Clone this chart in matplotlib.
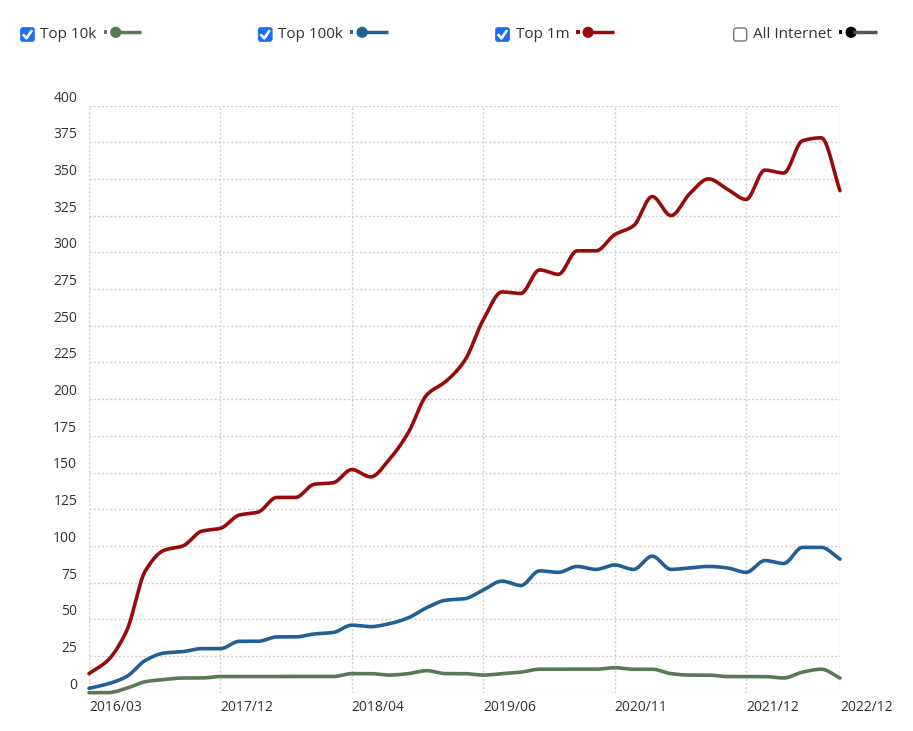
import matplotlib
matplotlib.use('Agg')

import matplotlib.pyplot as plt
from matplotlib.patches import FancyBboxPatch, Circle, Rectangle
import numpy as np

plt.rcParams['font.family'] = ['Open Sans', 'DejaVu Sans']

# 데이터
top10k = [0, 0, 3, 7.5, 9, 10, 10, 11, 11, 11, 11, 11, 11, 11, 13, 13, 12, 13, 15, 13,
          13, 12, 13, 14, 16, 16, 16, 16, 17, 16, 16, 13, 12, 12, 11, 11, 11, 10, 14, 16, 10]
top100k = [3, 6, 11, 22, 27, 28, 30, 30, 35, 35, 38, 38, 40, 41, 46, 45, 47, 51, 58, 63,
           64, 70, 76, 73, 83, 82, 86, 84, 87, 84, 93, 84, 85, 86, 85, 82, 90, 88, 99, 99, 91]
top1m = [13, 22, 42, 83, 97, 100, 110, 112, 121, 123, 133, 133, 142, 143, 152, 147, 159, 177,
         203, 212, 226, 254, 273, 272, 288, 285, 301, 301, 312, 318, 338, 325, 340, 350, 343,
         336, 356, 354, 376, 378, 342]

tick_pos = [0, 7, 14, 21, 28, 35, 40]
tick_labels = ['2016/03', '2017/12', '2018/04', '2019/06', '2020/11', '2021/12', '2022/12']
y_ticks = list(range(0, 401, 25))

series = [
    ('Top 10k', top10k, '#587b55', '#587b55', True),
    ('Top 100k', top100k, '#235f97', '#235f97', True),
    ('Top 1m', top1m, '#990b0b', '#990b0b', True),
    ('All Internet', None, '#000000', '#555555', False),
]


def monotone(x, y, n=24):
    # 단조 3차 보간 (곡선 표시용)
    x = np.asarray(x, float)
    y = np.asarray(y, float)
    h = np.diff(x)
    d = np.diff(y) / h
    m = np.zeros_like(y)
    m[0], m[-1] = d[0], d[-1]
    for k in range(1, len(y) - 1):
        if d[k - 1] * d[k] <= 0:
            m[k] = 0
        else:
            w1 = 2 * h[k] + h[k - 1]
            w2 = h[k] + 2 * h[k - 1]
            m[k] = (w1 + w2) / (w1 / d[k - 1] + w2 / d[k])
    xs, ys = [], []
    for k in range(len(h)):
        t = np.linspace(0, 1, n, endpoint=False)
        h00 = 2 * t**3 - 3 * t**2 + 1
        h10 = t**3 - 2 * t**2 + t
        h01 = -2 * t**3 + 3 * t**2
        h11 = t**3 - t**2
        xs.append(x[k] + t * h[k])
        ys.append(h00 * y[k] + h10 * h[k] * m[k] + h01 * y[k + 1] + h11 * h[k] * m[k + 1])
    xs.append([x[-1]])
    ys.append([y[-1]])
    return np.concatenate(xs), np.concatenate(ys)


W, H = 913, 731
fig = plt.figure(figsize=(W / 100, H / 100), dpi=100)
fig.patch.set_facecolor('white')

left, right, top, bottom = 89, 840, 105.5, 692.7
ax = fig.add_axes([left / W, 1 - bottom / H, (right - left) / W, (bottom - top) / H])

for name, vals, c_dot, c_line, on in series:
    if vals is None:
        continue
    xs, ys = monotone(np.arange(len(vals)), vals)
    ax.plot(xs, ys, color=c_line, lw=2.6, solid_capstyle='round', clip_on=False, zorder=3)

ax.set_xlim(0, len(top1m) - 1)
ax.set_ylim(0, 400)
ax.set_xticks(tick_pos)
ax.set_xticklabels(tick_labels, ha='left')
ax.set_yticks(y_ticks)
ax.set_yticklabels([str(v) for v in y_ticks])
for lab in ax.get_yticklabels():
    lab.set_va('bottom')
ax.tick_params(axis='both', length=0, labelsize=10, labelcolor='#333333')
ax.tick_params(axis='y', pad=8.5)
ax.tick_params(axis='x', pad=5)
for s in ax.spines.values():
    s.set_visible(False)
ax.grid(True, color='#cfcfcf', lw=1, linestyle=(0, (1.5, 1.5)))
ax.set_axisbelow(True)

# 범례 (체크박스 + 아이콘)
lg = fig.add_axes([0, 0, 1, 1])
lg.set_xlim(0, W)
lg.set_ylim(H, 0)
lg.axis('off')

box_x = [20, 257.7, 495, 732.7]
for (name, vals, c_dot, c_line, on), bx in zip(series, box_x):
    if on:
        lg.add_patch(FancyBboxPatch((bx + 0.5, 27.5), 14, 14, boxstyle='round,pad=0,rounding_size=2.5',
                                    fc='#1a6ff0', ec='#1a6ff0', lw=0.5))
        lg.plot([bx + 3.5, bx + 6.5, bx + 11.5], [35, 38.3, 31], color='white', lw=1.9,
                solid_capstyle='round', solid_joinstyle='round')
    else:
        lg.add_patch(FancyBboxPatch((bx + 1, 28), 13, 13, boxstyle='round,pad=0,rounding_size=2.5',
                                    fc='white', ec='#767676', lw=1))
    tx = bx + 20.5
    t = lg.text(tx, 35, name, fontsize=11, color='#333333', va='center', ha='left')
    fig.canvas.draw()
    bb = t.get_window_extent()
    ex = bb.x1 + 7
    lg.add_patch(Rectangle((ex, 30.2), 3.4, 3.4, fc=c_dot, ec='none'))
    lg.plot([ex + 14, ex + 37.5], [32, 32], color=c_line, lw=2.5, solid_capstyle='butt')
    lg.add_patch(Circle((ex + 12, 32.3), 5.6, fc=c_dot, ec='none'))

fig.savefig('out.png', dpi=100, facecolor='white')
